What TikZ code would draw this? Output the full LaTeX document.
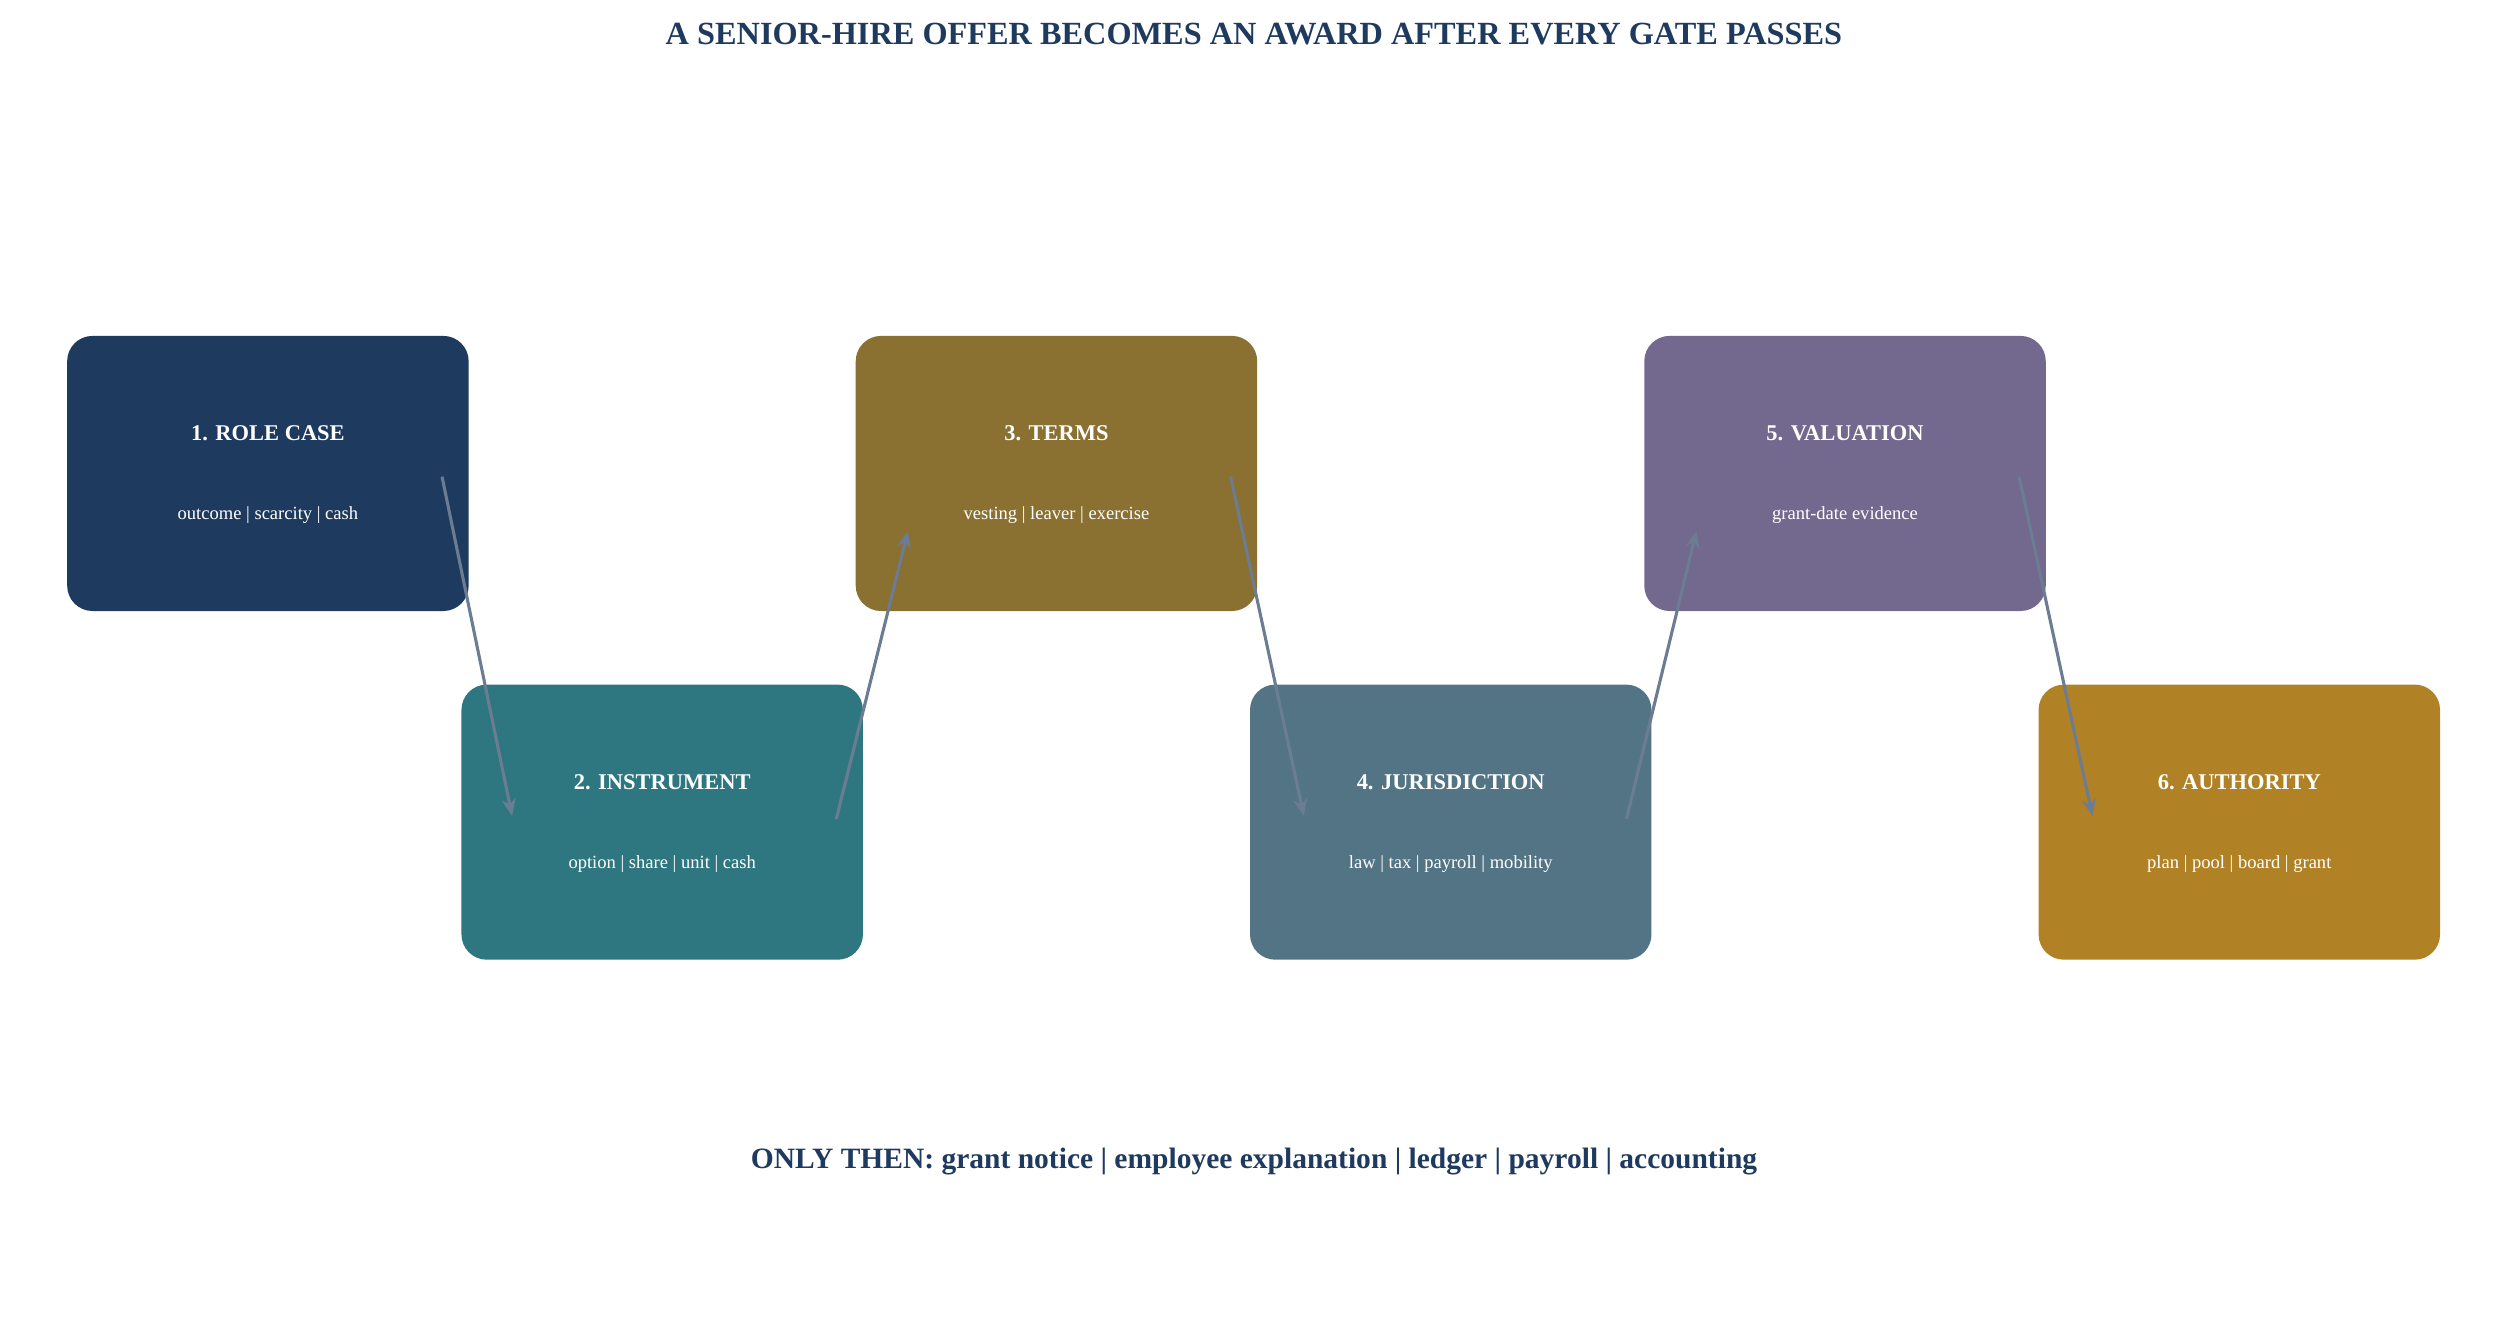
\documentclass[tikz,border=0pt]{standalone}
\usepackage{fontspec}
\setmainfont{Liberation Serif}
\usetikzlibrary{calc,arrows.meta}
\definecolor{navy}{HTML}{1F3A5F}
\definecolor{teal}{HTML}{2E7780}
\definecolor{olive}{HTML}{8A7031}
\definecolor{slate}{HTML}{537485}
\definecolor{mauve}{HTML}{73688E}
\definecolor{ochre}{HTML}{B08225}
\definecolor{link}{HTML}{6B7C93}
\tikzset{
  gate/.style={rounded corners=9pt, minimum width=251*0.02cm, minimum height=172*0.02cm, inner sep=0pt},
  head/.style={text=white, font=\bfseries\fontsize{8}{9}\selectfont},
  sub/.style={text=white, font=\fontsize{6.6}{8}\selectfont},
  flow/.style={link, line width=1.1pt, -{Stealth[length=6pt,width=5pt]}}
}
\begin{document}
\begin{tikzpicture}[x=0.02cm,y=-0.02cm]
\useasboundingbox (0,0) rectangle (1568,839);
\node[text=navy, font=\bfseries\fontsize{11.5}{13}\selectfont] (title) at (784,21) {A SENIOR-HIRE OFFER BECOMES AN AWARD AFTER EVERY GATE PASSES};
% gates
\node[gate, fill=navy] (b1) at (167.5,296) {};
\node[gate, fill=teal] (b2) at (414,514) {};
\node[gate, fill=olive] (b3) at (660.5,296) {};
\node[gate, fill=slate] (b4) at (907,514) {};
\node[gate, fill=mauve] (b5) at (1153.5,296) {};
\node[gate, fill=ochre] (b6) at (1400,514) {};
\node[head] at ($(b1)+(0,-25)$) {1. ROLE CASE};
\node[sub] at ($(b1)+(0,26)$) {outcome | scarcity | cash};
\node[head] at ($(b2)+(0,-25)$) {2. INSTRUMENT};
\node[sub] at ($(b2)+(0,26)$) {option | share | unit | cash};
\node[head] at ($(b3)+(0,-25)$) {3. TERMS};
\node[sub] at ($(b3)+(0,26)$) {vesting | leaver | exercise};
\node[head] at ($(b4)+(0,-25)$) {4. JURISDICTION};
\node[sub] at ($(b4)+(0,26)$) {law | tax | payroll | mobility};
\node[head] at ($(b5)+(0,-25)$) {5. VALUATION};
\node[sub] at ($(b5)+(0,26)$) {grant-date evidence};
\node[head] at ($(b6)+(0,-25)$) {6. AUTHORITY};
\node[sub] at ($(b6)+(0,26)$) {plan | pool | board | grant};
% links
\coordinate (o1) at ($(b1.east)+(-17,2)$);
\coordinate (i2) at ($(b2.west)+(32,-4)$);
\coordinate (o2) at ($(b2.east)+(-17,-2)$);
\coordinate (i3) at ($(b3.west)+(33,36)$);
\coordinate (o3) at ($(b3.east)+(-17,2)$);
\coordinate (i4) at ($(b4.west)+(34,-4)$);
\coordinate (o4) at ($(b4.east)+(-16,-2)$);
\coordinate (i5) at ($(b5.west)+(33,36)$);
\coordinate (o5) at ($(b5.east)+(-17,2)$);
\coordinate (i6) at ($(b6.west)+(34,-4)$);
\draw[flow] (o1) -- (i2);
\draw[flow] (o2) -- (i3);
\draw[flow] (o3) -- (i4);
\draw[flow] (o4) -- (i5);
\draw[flow] (o5) -- (i6);
\node[text=navy, font=\bfseries\fontsize{10.5}{12}\selectfont] (after) at (784,726) {ONLY THEN: grant notice | employee explanation | ledger | payroll | accounting};
\end{tikzpicture}
\end{document}
